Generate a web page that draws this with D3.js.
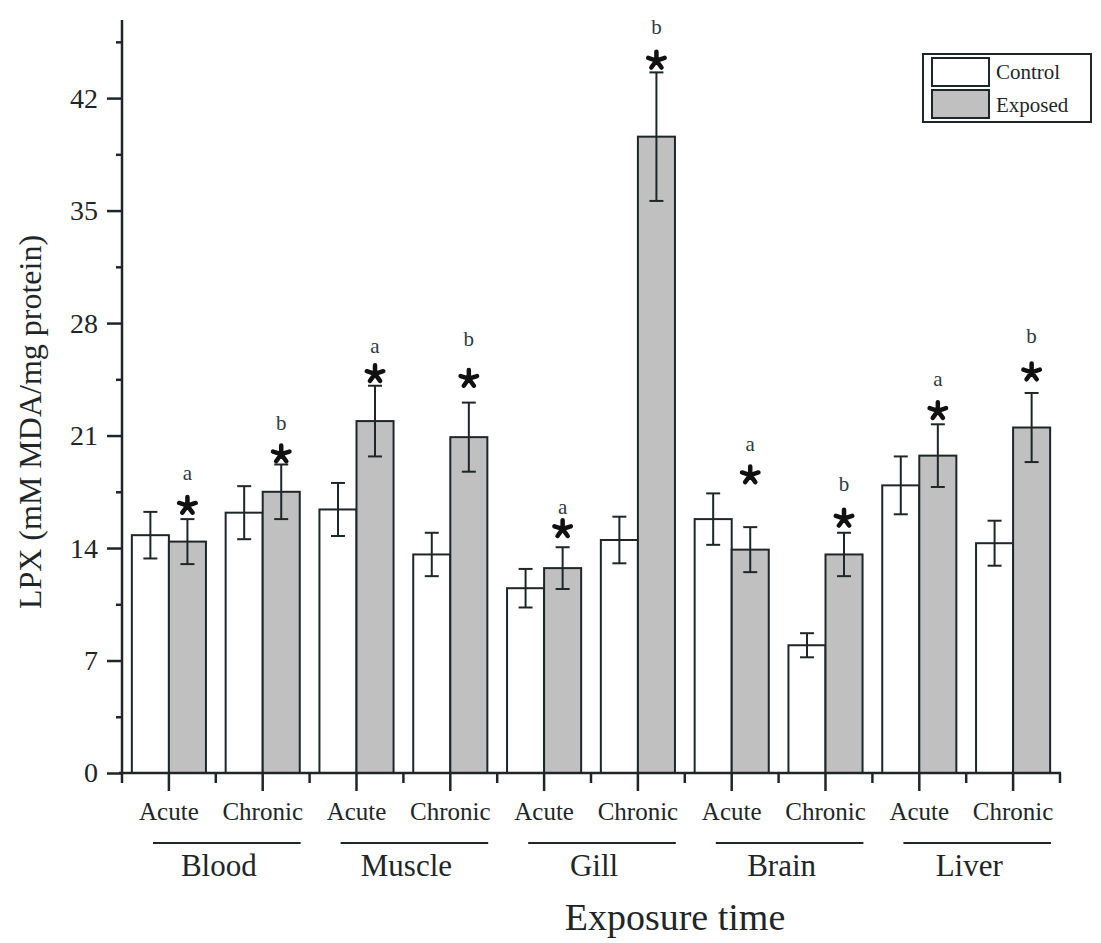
<!DOCTYPE html>
<html>
<head>
<meta charset="utf-8">
<script src="https://cdn.jsdelivr.net/npm/d3@7"></script>
<style>
    body { margin: 0; background: #fff; }
    text { font-family: "Liberation Serif", "Times New Roman", serif; fill: #1e2628; }
</style>
</head>
<body>
<div id="chart"></div>
<script>
const tissues = ["Blood", "Muscle", "Gill", "Brain", "Liver"];
const times = ["Acute", "Chronic"];
const series = ["Control", "Exposed"];

// one value per tissue/time pair, in order Blood-Acute, Blood-Chronic, Muscle-Acute ...
const controlMean = [14.8, 16.2, 16.4, 13.6, 11.5, 14.5, 15.8, 7.95, 17.9, 14.3];
const controlErr = [1.45, 1.65, 1.65, 1.35, 1.2, 1.45, 1.6, 0.75, 1.8, 1.4];
const exposedMean = [14.4, 17.5, 21.9, 20.9, 12.75, 39.6, 13.9, 13.6, 19.75, 21.5];
const exposedErr = [1.4, 1.7, 2.2, 2.15, 1.3, 4.0, 1.4, 1.35, 1.95, 2.15];

// significance marks above the exposed bars (value where they sit)
const starLevel = [16.7, 19.9, 24.9, 24.6, 15.25, 44.4, 18.6, 15.9, 22.6, 25.0];
const letterLevel = [18.7, 21.8, 26.6, 27.0, 16.55, 46.4, 20.5, 18.0, 24.5, 27.2];
const letters = ["a", "b", "a", "b", "a", "b", "a", "b", "a", "b"];

const yTicks = [0, 7, 14, 21, 28, 35, 42];
const yMinorTicks = [3.5, 10.5, 17.5, 24.5, 31.5, 38.5, 45.5];

// five armed asterisk for d3.symbol
const asterisk5 = {
    draw(context, size) {
        const r = Math.sqrt(size) / 2;
        for (let i = 0; i < 5; i++) {
            const a = -Math.PI / 2 + i * 2 * Math.PI / 5;
            context.moveTo(0, 0);
            context.lineTo(r * Math.cos(a), r * Math.sin(a));
        }
    }
};

class GroupedBarchart {
    constructor(_config) {
        this.config = {
            parentElement: _config.parentElement,
            containerWidth: 1101,
            containerHeight: 943,
            margin: { top: 20, right: 41, bottom: 170, left: 122 }
        };
        this.data = [];
        tissues.forEach((t, i) => {
            times.forEach((p, j) => {
                const k = i * 2 + j;
                this.data.push({
                    id: t + "-" + p, tissue: t, time: p,
                    values: [
                        { series: "Control", mean: controlMean[k], err: controlErr[k] },
                        { series: "Exposed", mean: exposedMean[k], err: exposedErr[k] }
                    ],
                    star: starLevel[k], letterY: letterLevel[k], letter: letters[k]
                });
            });
        });
        this.initVis();
    }

    initVis() {
        let vis = this;
        vis.config.width = vis.config.containerWidth - vis.config.margin.left - vis.config.margin.right;
        vis.config.height = vis.config.containerHeight - vis.config.margin.top - vis.config.margin.bottom;

        vis.svg = d3.select(vis.config.parentElement)
            .append("svg")
            .attr("width", vis.config.containerWidth)
            .attr("height", vis.config.containerHeight)
            .append("g")
            .attr("transform", `translate(${vis.config.margin.left},${vis.config.margin.top})`);

        vis.xScale = d3.scaleBand()
            .domain(vis.data.map(d => d.id))
            .range([0, vis.config.width]);

        vis.barWidth = vis.xScale.bandwidth() * 0.395;
        vis.xInner = d3.scaleBand()
            .domain(series)
            .range([-vis.barWidth, vis.barWidth]);

        vis.yScale = d3.scaleLinear()
            .domain([0, 46.86])
            .range([vis.config.height, 0]);

        vis.updateVis();
    }

    updateVis() {
        let vis = this;
        const ink = "#1e2628";
        const h = vis.config.height;

        // bars
        const groups = vis.svg.selectAll(".group")
            .data(vis.data)
            .join("g")
            .attr("class", "group")
            .attr("transform", d => `translate(${vis.xScale(d.id) + vis.xScale.bandwidth() / 2},0)`);

        groups.selectAll(".bar")
            .data(d => d.values)
            .join("rect")
            .attr("class", "bar")
            .attr("x", d => vis.xInner(d.series))
            .attr("y", d => vis.yScale(d.mean))
            .attr("width", vis.xInner.bandwidth())
            .attr("height", d => h - vis.yScale(d.mean))
            .attr("fill", d => d.series === "Control" ? "#ffffff" : "#c0c0c0")
            .attr("stroke", ink)
            .attr("stroke-width", 2);

        // error bars
        const errs = groups.selectAll(".err")
            .data(d => d.values)
            .join("g")
            .attr("class", "err")
            .attr("transform", d => `translate(${vis.xInner(d.series) + vis.xInner.bandwidth() / 2},0)`)
            .attr("stroke", ink)
            .attr("stroke-width", 2);
        errs.append("line")
            .attr("y1", d => vis.yScale(d.mean + d.err))
            .attr("y2", d => vis.yScale(d.mean - d.err));
        errs.append("line")
            .attr("x1", -7).attr("x2", 7)
            .attr("y1", d => vis.yScale(d.mean + d.err))
            .attr("y2", d => vis.yScale(d.mean + d.err));
        errs.append("line")
            .attr("x1", -7).attr("x2", 7)
            .attr("y1", d => vis.yScale(d.mean - d.err))
            .attr("y2", d => vis.yScale(d.mean - d.err));

        // stars and letters
        const markX = vis.xInner("Exposed") + vis.xInner.bandwidth() / 2;
        groups.append("path")
            .attr("transform", d => `translate(${markX},${vis.yScale(d.star) + 1})`)
            .attr("d", d3.symbol().type(asterisk5).size(300))
            .attr("fill", "none")
            .attr("stroke", "#111")
            .attr("stroke-width", 4.5)
            .attr("stroke-linecap", "round");
        groups.append("text")
            .attr("x", markX)
            .attr("y", d => vis.yScale(d.letterY) + 7)
            .attr("text-anchor", "middle")
            .style("font-size", "21px")
            .style("fill", "#2c3a44")
            .text(d => d.letter);

        // y axis
        const yAxis = d3.axisLeft(vis.yScale)
            .tickValues(yTicks)
            .tickSize(15)
            .tickPadding(9)
            .tickFormat(d3.format("d"));
        const yg = vis.svg.append("g").attr("class", "y-axis axis").call(yAxis);
        yg.select(".domain").remove();
        yg.selectAll("line").attr("stroke", ink).attr("stroke-width", 2.5);
        yg.selectAll("text").style("font-size", "28px").attr("fill", ink)
            .style("font-family", "'Liberation Serif', serif");

        const yMinor = vis.svg.append("g").call(d3.axisLeft(vis.yScale).tickValues(yMinorTicks).tickSize(6).tickFormat(""));
        yMinor.select(".domain").remove();
        yMinor.selectAll("line").attr("stroke", ink).attr("stroke-width", 2.5);

        vis.svg.append("line")
            .attr("x1", 0).attr("x2", 0)
            .attr("y1", 0).attr("y2", h)
            .attr("stroke", ink).attr("stroke-width", 2.5);

        // x axis
        const xAxis = d3.axisBottom(vis.xScale)
            .tickSize(18)
            .tickPadding(11)
            .tickFormat(id => vis.data.find(d => d.id === id).time);
        const xg = vis.svg.append("g")
            .attr("class", "x-axis axis")
            .attr("transform", `translate(0,${h})`)
            .call(xAxis);
        xg.select(".domain").remove();
        xg.selectAll("line").attr("stroke", ink).attr("stroke-width", 2.5);
        xg.selectAll("text").style("font-size", "25px").attr("fill", ink)
            .style("font-family", "'Liberation Serif', serif");

        const bounds = vis.data.map(d => vis.xScale(d.id)).concat([vis.config.width]);
        xg.selectAll(".minor")
            .data(bounds)
            .join("line")
            .attr("class", "minor")
            .attr("x1", d => d).attr("x2", d => d)
            .attr("y1", 0).attr("y2", 10)
            .attr("stroke", ink).attr("stroke-width", 2.5);

        xg.append("line")
            .attr("x1", -3).attr("x2", vis.config.width + 1)
            .attr("stroke", ink).attr("stroke-width", 2.5);

        // tissue labels with underline
        const tissueG = vis.svg.selectAll(".tissue")
            .data(tissues)
            .join("g")
            .attr("class", "tissue");
        tissueG.append("line")
            .attr("x1", t => vis.xScale(t + "-Acute") + 31)
            .attr("x2", t => vis.xScale(t + "-Chronic") + vis.xScale.bandwidth() - 9)
            .attr("y1", h + 70).attr("y2", h + 70)
            .attr("stroke", ink).attr("stroke-width", 2);
        tissueG.append("text")
            .attr("x", t => vis.xScale(t + "-Chronic") + 3)
            .attr("y", h + 103)
            .attr("text-anchor", "middle")
            .style("font-size", "31px")
            .text(t => t);

        // axis titles
        vis.svg.append("text")
            .attr("x", 553)
            .attr("y", h + 157)
            .attr("text-anchor", "middle")
            .style("font-size", "38px")
            .text("Exposure time");

        vis.svg.append("text")
            .attr("transform", `translate(${41 - vis.config.margin.left},${422 - vis.config.margin.top}) rotate(-90)`)
            .attr("text-anchor", "middle")
            .style("font-size", "32px")
            .text("LPX (mM MDA/mg protein)");

        // legend
        const lg = vis.svg.append("g")
            .attr("transform", `translate(${923 - vis.config.margin.left},${54 - vis.config.margin.top})`);
        lg.append("rect")
            .attr("width", 168).attr("height", 68)
            .attr("fill", "#fff").attr("stroke", ink).attr("stroke-width", 2);
        lg.selectAll(".swatch")
            .data(series)
            .join("rect")
            .attr("class", "swatch")
            .attr("x", 9)
            .attr("y", (d, i) => 4 + i * 32)
            .attr("width", 57).attr("height", 28)
            .attr("fill", d => d === "Control" ? "#ffffff" : "#c0c0c0")
            .attr("stroke", ink).attr("stroke-width", 2);
        lg.selectAll(".ltext")
            .data(series)
            .join("text")
            .attr("class", "ltext")
            .attr("x", 73)
            .attr("y", (d, i) => 25 + i * 33)
            .style("font-size", "21px")
            .text(d => d);
    }
}

new GroupedBarchart({ parentElement: "#chart" });
</script>
</body>
</html>
